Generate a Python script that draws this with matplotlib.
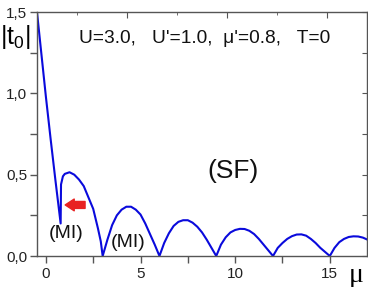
import numpy as np
import matplotlib
matplotlib.use("Agg")
import matplotlib.pyplot as plt
from matplotlib.ticker import MultipleLocator, FuncFormatter

plt.rcParams['font.family'] = ['Liberation Sans', 'DejaVu Sans']
plt.rcParams['mathtext.fontset'] = 'custom'
plt.rcParams['mathtext.rm'] = 'Liberation Sans'

# |t0| versus mu
mu = [-0.47, 0.0, 0.25, 0.5, 0.78, 0.80, 0.9, 1.0, 1.25, 1.5, 1.75, 2.0, 2.25, 2.5, 2.75, 2.9, 3.0,
      3.25, 3.5, 3.75, 4.0, 4.25, 4.5, 4.75, 5.0, 5.25, 5.5, 5.75, 6.0,
      6.25, 6.5, 6.75, 7.0, 7.25, 7.5, 7.75, 8.0, 8.25, 8.5, 8.75, 9.0,
      9.25, 9.5, 9.75, 10.0, 10.25, 10.5, 10.75, 11.0, 11.25, 11.5, 11.75, 12.0,
      12.25, 12.5, 12.75, 13.0, 13.25, 13.5, 13.75, 14.0, 14.25, 14.5, 14.75, 15.0,
      15.25, 15.5, 15.75, 16.0, 16.25, 16.5, 16.75, 17.0]
t0 = [1.5, 0.98, 0.72, 0.47, 0.20, 0.44, 0.49, 0.505, 0.515, 0.50, 0.47, 0.43, 0.36, 0.29, 0.17, 0.09, 0.0,
      0.10, 0.19, 0.25, 0.285, 0.303, 0.303, 0.285, 0.255, 0.20, 0.135, 0.07, 0.0,
      0.08, 0.14, 0.185, 0.21, 0.22, 0.22, 0.205, 0.18, 0.145, 0.10, 0.05, 0.0,
      0.07, 0.115, 0.145, 0.16, 0.167, 0.166, 0.155, 0.135, 0.105, 0.07, 0.035, 0.0,
      0.05, 0.08, 0.105, 0.122, 0.132, 0.133, 0.125, 0.105, 0.08, 0.05, 0.025, 0.0,
      0.05, 0.085, 0.105, 0.117, 0.121, 0.12, 0.113, 0.10]

params_text = "U=3.0,   U'=1.0,  \u03bc'=0.8,   T=0"

fig = plt.figure(figsize=(3.68, 2.87), dpi=100)
ax = fig.add_axes([0.1005, 0.108, 0.896, 0.85])

ax.plot(mu, t0, color='#0a0adc', lw=1.5, solid_joinstyle='round')
ax.set_xlim(-0.47, 16.95)
ax.set_ylim(0, 1.5)

gray = '#555555'
for s in ax.spines.values():
    s.set_color(gray)
    s.set_linewidth(1.0)

ax.xaxis.set_major_locator(MultipleLocator(5))
ax.xaxis.set_minor_locator(MultipleLocator(2.5))
ax.yaxis.set_major_locator(MultipleLocator(0.5))
ax.yaxis.set_minor_locator(MultipleLocator(0.25))
ax.yaxis.set_major_formatter(FuncFormatter(lambda v, p: ('%.1f' % v).replace('.', ',')))
ax.tick_params(which='both', direction='out', length=5, width=1, color=gray,
               labelsize=11, labelcolor='#222222', top=False, right=False)
ax.tick_params(axis='x', pad=3)
ax.tick_params(axis='y', pad=2)

# right ticks (inward, every 0.25)
axr = ax.twinx()
axr.set_ylim(0, 1.5)
axr.yaxis.set_major_locator(MultipleLocator(0.25))
axr.tick_params(axis='y', which='both', direction='in', length=3.5, color=gray, labelright=False)
for s in axr.spines.values():
    s.set_visible(False)

# top ticks (inward, own scale)
axt = ax.twiny()
axt.set_xlim(0.5, 17.0)
axt.xaxis.set_major_locator(MultipleLocator(5))
axt.xaxis.set_minor_locator(MultipleLocator(2.5))
axt.tick_params(axis='x', which='major', direction='in', length=4, color=gray, labeltop=False)
axt.tick_params(axis='x', which='minor', direction='in', length=2.5, color=gray)
for s in axt.spines.values():
    s.set_visible(False)

ax.text(1.75, 1.34, params_text, fontsize=13.8, ha='left', va='center', color='#111111')
ax.text(9.9, 0.52, '(SF)', fontsize=19, ha='center', va='center', color='#111111')
ax.text(1.07, 0.14, '(MI)', fontsize=14, ha='center', va='center', color='#111111')
ax.text(4.33, 0.085, '(MI)', fontsize=14, ha='center', va='center', color='#111111')

ax.annotate('', xy=(1.02, 0.314), xytext=(2.07, 0.314),
            arrowprops=dict(arrowstyle='simple,head_length=0.65,head_width=0.85,tail_width=0.5',
                            color='#e82222', shrinkA=0, shrinkB=0, mutation_scale=10))

fig.text(15 / 368, 1 - 37 / 287, r'$|\mathrm{t}_0|$', fontsize=18, ha='center', va='center')
fig.text(356 / 368, 1 - 276 / 287, '\u03bc', fontsize=20, ha='center', va='center',
         family='Liberation Serif')

fig.savefig('out.png', dpi=100)
